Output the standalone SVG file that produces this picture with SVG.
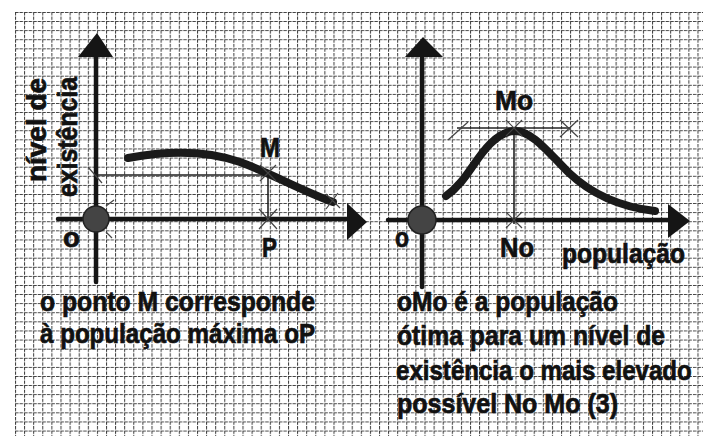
<svg xmlns="http://www.w3.org/2000/svg" width="703" height="436" viewBox="0 0 703 436">
<style>
.t{font-family:"Liberation Sans Narrow","Liberation Sans",Arial,sans-serif;font-weight:bold;fill:#111;stroke:#111;stroke-width:0.7;}
.ax{stroke:#151515;stroke-width:4.5;fill:none;stroke-linecap:round;}
.cv{stroke:#1a1a1a;stroke-width:8;fill:none;stroke-linecap:round;}
.thin{stroke:#222;stroke-width:1.6;fill:none;}
.mk{stroke:#444;stroke-width:1.2;fill:none;}
.head{fill:#151515;}
.org{fill:#444;stroke:#222;stroke-width:1.5;}
</style>
<defs>
<pattern id="grid" x="15" y="12" width="9.1" height="9.1" patternUnits="userSpaceOnUse">
<path d="M0.5,0 V9.1 M0,0.5 H9.1" stroke="#3a3a3a" stroke-width="1" stroke-dasharray="3.5 1" fill="none"/>
</pattern>
</defs>
<rect width="703" height="436" fill="#fff"/>
<rect x="15" y="12" width="688" height="424" fill="url(#grid)"/>

<g id="connectors">
<path class="ax" d="M96,55 V282"/>
<path class="ax" d="M58,219 H352"/>
<path class="ax" d="M422,55 V287"/>
<path class="ax" d="M388,220 H672"/>
<path class="thin" d="M96,175 H268 V219"/>
<path class="thin" d="M457,128 H570"/>
<path class="thin" d="M514,128 V224"/>
<path class="cv" d="M128,158 C165,151 205,150 240,162 C275,175 300,190 333,202"/>
<path class="cv" d="M446,196 C466,182 474,160 490,144 C500,134 508,131 515,131 C532,131 548,152 568,172 C592,195 620,207 655,211"/>
<path class="mk" d="M88,167 L102,183"/>
<path class="mk" d="M260,165 L276,181 M276,165 L260,181"/>
<path class="mk" d="M259,209 L277,229 M277,209 L259,229"/>
<path class="mk" d="M326,194 L340,208 M338,193 L326,209"/>
<path class="mk" d="M448,140 L468,122"/>
<path class="mk" d="M560,120 L578,137 M560,137 L578,120"/>
<path class="mk" d="M506,120 L522,136 M522,120 L506,136"/>
<path class="mk" d="M506,212 L522,228 M522,212 L506,228"/>
<path class="mk" d="M106,206 L114,200 M106,232 L112,238"/>
</g>

<g id="left-y-axis-head"><polygon class="head" points="97,33 78,57 113,57"/></g>
<g id="left-x-axis-head"><polygon class="head" points="367,222 347,203 347,240"/></g>
<g id="right-y-axis-head"><polygon class="head" points="423,37 405,57 443,57"/></g>
<g id="right-x-axis-head"><polygon class="head" points="690,221 668,204 668,238"/></g>

<g id="left-origin"><circle class="org" cx="96" cy="219" r="13"/></g>
<g id="right-origin"><circle class="org" cx="422" cy="220" r="14"/></g>

<g id="y-label">
<text class="t" font-size="27" transform="translate(46,182) rotate(-90)" textLength="104" lengthAdjust="spacingAndGlyphs">nível de</text>
<text class="t" font-size="27" transform="translate(77,197) rotate(-90)" textLength="120" lengthAdjust="spacingAndGlyphs">existência</text>
</g>

<g id="left-labels">
<text class="t" font-size="28" x="63" y="247" textLength="17" lengthAdjust="spacingAndGlyphs">o</text>
<text class="t" font-size="28" x="260" y="157" textLength="20" lengthAdjust="spacingAndGlyphs">M</text>
<text class="t" font-size="28" x="262" y="257" textLength="15" lengthAdjust="spacingAndGlyphs">P</text>
</g>

<g id="right-labels">
<text class="t" font-size="28" x="395" y="247" textLength="14" lengthAdjust="spacingAndGlyphs">o</text>
<text class="t" font-size="28" x="495" y="110" textLength="38" lengthAdjust="spacingAndGlyphs">Mo</text>
<text class="t" font-size="28" x="500" y="257" textLength="34" lengthAdjust="spacingAndGlyphs">No</text>
<text class="t" font-size="28" x="562" y="263" textLength="123" lengthAdjust="spacingAndGlyphs">população</text>
</g>

<g id="left-caption">
<text class="t" font-size="28" x="40" y="311" textLength="275" lengthAdjust="spacingAndGlyphs">o ponto M corresponde</text>
<text class="t" font-size="28" x="40" y="343" textLength="275" lengthAdjust="spacingAndGlyphs">à população máxima oP</text>
</g>

<g id="right-caption">
<text class="t" font-size="28" x="397" y="311" textLength="221" lengthAdjust="spacingAndGlyphs">oMo é a população</text>
<text class="t" font-size="28" x="397" y="345" textLength="268" lengthAdjust="spacingAndGlyphs">ótima para um nível de</text>
<text class="t" font-size="28" transform="translate(396,380) scale(0.86,1)">existência o mais elevado</text>
<text class="t" font-size="28" x="397" y="413" textLength="221" lengthAdjust="spacingAndGlyphs">possível No Mo (3)</text>
</g>
</svg>
